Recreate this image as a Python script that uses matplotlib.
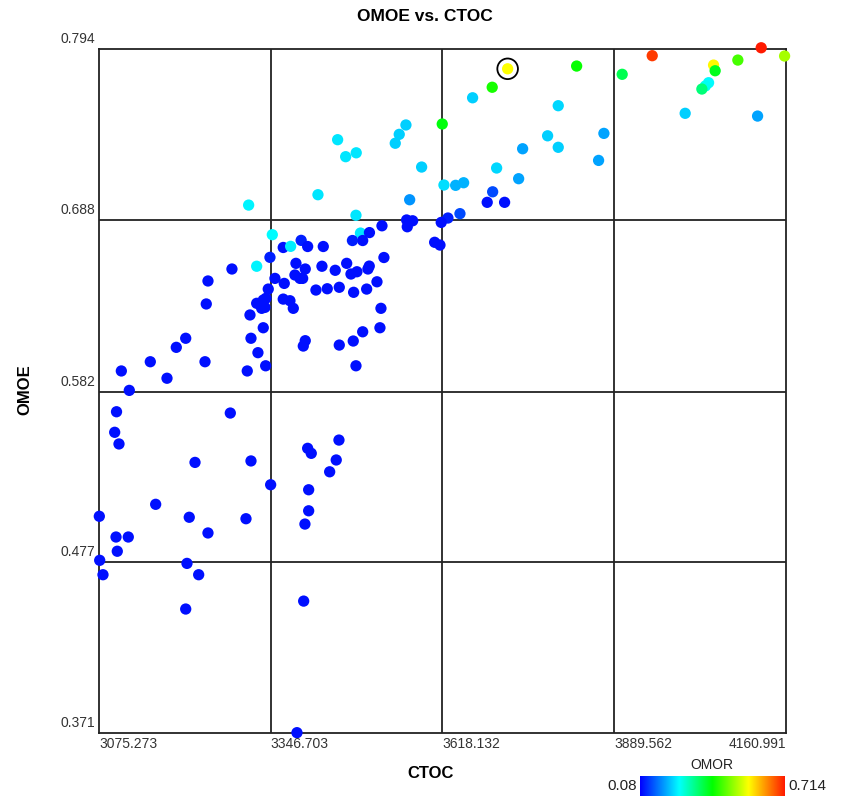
import numpy as np
import matplotlib
matplotlib.use("Agg")
import matplotlib.pyplot as plt
from matplotlib.colors import LinearSegmentedColormap, Normalize
from matplotlib.transforms import blended_transform_factory

plt.rcParams['font.family'] = ['Liberation Sans', 'DejaVu Sans']

# well data: CTOC (x), OMOE (y), OMOR (colour)
ctoc = [3721.4, 3830.5, 3902.5, 3950.0, 4047.0, 4049.5, 4039.1, 4034.1, 4028.5, 4085.4,
        4122.3, 4159.3, 4002.1, 4116.6, 3873.6, 3865.2, 3801.4, 3801.4, 3697.0, 3666.0,
        3618.0, 3784.6, 3745.1, 3704.0, 3738.8, 3620.7, 3639.2, 3651.8, 3697.7, 3689.1,
        3716.6, 3646.0, 3627.0, 3616.4, 3606.0, 3614.4, 3560.6, 3550.0, 3543.7, 3585.4,
        3566.5, 3561.7, 3571.2, 3562.7, 3522.7, 3525.8, 3452.6, 3465.3, 3482.0, 3421.5,
        3311.9, 3481.6, 3349.3, 3488.7, 3502.9, 3492.2, 3476.0, 3394.9, 3405.2, 3429.9,
        3366.6, 3378.3, 3345.6, 3324.6, 3285.5, 3386.7, 3401.4, 3427.8, 3448.8, 3466.9,
        3473.7, 3483.1, 3500.5, 3502.6, 3353.5, 3368.2, 3385.1, 3393.0, 3397.3, 3342.9,
        3418.3, 3436.2, 3455.2, 3477.9, 3498.5, 3514.8, 3366.6, 3377.2, 3382.5, 3324.6,
        3335.0, 3339.3, 3332.5, 3337.7, 3314.0, 3335.0, 3315.6, 3326.6, 3338.8, 3309.7,
        3521.1, 3519.5, 3492.2, 3477.3, 3455.2, 3401.4, 3398.3, 3481.6, 3247.6, 3244.9,
        3212.4, 3197.5, 3156.4, 3110.6, 3182.8, 3242.9, 3123.2, 3103.0, 3282.9, 3100.1,
        3106.9, 3227.1, 3315.6, 3346.7, 3405.2, 3410.9, 3454.7, 3450.4, 3440.0, 3406.8,
        3406.8, 3400.9, 3164.9, 3075.8, 3218.0, 3307.7, 3247.6, 3102.2, 3121.6, 3104.2,
        3076.4, 3081.6, 3214.4, 3232.9, 3212.4, 3398.9, 3388.3]

omoe = [0.7816, 0.7833, 0.7782, 0.7897, 0.7839, 0.7804, 0.7730, 0.7710, 0.7691, 0.7870,
        0.7946, 0.7895, 0.7541, 0.7524, 0.7417, 0.7250, 0.7588, 0.7331, 0.7702, 0.7637,
        0.7475, 0.7402, 0.7322, 0.7203, 0.7137, 0.7098, 0.7096, 0.7112, 0.7056, 0.6991,
        0.6991, 0.6921, 0.6894, 0.6867, 0.6744, 0.6727, 0.7469, 0.7411, 0.7356, 0.7209,
        0.7007, 0.6882, 0.6877, 0.6840, 0.6846, 0.6650, 0.7378, 0.7273, 0.7297, 0.7038,
        0.6974, 0.6911, 0.6791, 0.6801, 0.6804, 0.6755, 0.6755, 0.6756, 0.6718, 0.6718,
        0.6712, 0.6719, 0.6651, 0.6596, 0.6579, 0.6614, 0.6579, 0.6596, 0.6571, 0.6614,
        0.6548, 0.6562, 0.6579, 0.6597, 0.6521, 0.6490, 0.6542, 0.6521, 0.6521, 0.6455,
        0.6449, 0.6457, 0.6466, 0.6435, 0.6455, 0.6500, 0.6393, 0.6383, 0.6336, 0.6367,
        0.6387, 0.6398, 0.6336, 0.6342, 0.6295, 0.6216, 0.6151, 0.6062, 0.5981, 0.5949,
        0.6336, 0.6216, 0.6191, 0.6134, 0.6109, 0.6136, 0.6103, 0.5981, 0.6505, 0.6363,
        0.6151, 0.6095, 0.6006, 0.5949, 0.5904, 0.6006, 0.5829, 0.5697, 0.5689, 0.5570,
        0.5498, 0.5384, 0.5393, 0.5246, 0.5471, 0.5440, 0.5522, 0.5399, 0.5326, 0.5215,
        0.5085, 0.5003, 0.5125, 0.5051, 0.5045, 0.5036, 0.4948, 0.4923, 0.4923, 0.4835,
        0.4779, 0.4690, 0.4760, 0.4690, 0.4478, 0.4527, 0.3714]

omor = [0.555, 0.40, 0.35, 0.69, 0.56, 0.38, 0.25, 0.26, 0.33, 0.44,
        0.714, 0.50, 0.22, 0.19, 0.19, 0.19, 0.225, 0.22, 0.41, 0.22,
        0.39, 0.22, 0.19, 0.225, 0.19, 0.23, 0.20, 0.20, 0.13, 0.09,
        0.09, 0.13, 0.10, 0.09, 0.09, 0.09, 0.22, 0.22, 0.22, 0.22,
        0.18, 0.09, 0.09, 0.09, 0.09, 0.09, 0.235, 0.235, 0.235, 0.235,
        0.245, 0.235, 0.25, 0.235, 0.09, 0.09, 0.10, 0.10, 0.09, 0.09,
        0.09, 0.24, 0.10, 0.245] + [0.09] * 83

highlight = 0  # selected sample, ringed

xticks = [3075.273, 3346.703, 3618.132, 3889.562, 4160.991]
yticks = [0.371, 0.477, 0.582, 0.688, 0.794]
omor_min, omor_max = 0.08, 0.714

cmap = LinearSegmentedColormap.from_list(
    "omor", [(0.0, "#0000ff"), (0.27, "#00ffff"), (0.5, "#00ff00"),
             (0.75, "#ffff00"), (1.0, "#ff1a00")])
norm = Normalize(omor_min, omor_max)

fig = plt.figure(figsize=(8.41, 7.99), dpi=100)
ax = fig.add_axes([0.1177, 0.0822, 0.8165, 0.8568])
ax.set_xlim(xticks[0], xticks[-1])
ax.set_ylim(yticks[0], yticks[-1])

for v in xticks[1:-1]:
    ax.axvline(v, color="#222222", lw=1.3, zorder=1)
for v in yticks[1:-1]:
    ax.axhline(v, color="#222222", lw=1.3, zorder=1)
for s in ax.spines.values():
    s.set_color("#222222")
    s.set_linewidth(1.3)

ax.scatter(ctoc, omoe, c=omor, cmap=cmap, norm=norm, s=66, edgecolors="none",
           zorder=3, clip_on=False)
ax.scatter([ctoc[highlight]], [omoe[highlight]], s=220, facecolors="none",
           edgecolors="black", linewidths=1.3, zorder=4, clip_on=False)

ax.set_xticks([])
ax.set_yticks([])
tx = blended_transform_factory(ax.transData, ax.transAxes)
ty = blended_transform_factory(ax.transAxes, ax.transData)
for i, v in enumerate(xticks):
    ha = "right" if i == len(xticks) - 1 else "left"
    ax.text(v, -0.006, f"{v:.3f}", transform=tx, ha=ha, va="top",
            fontsize=10, color="#333333")
for v in yticks:
    ax.text(-0.005, v + 0.002, f"{v:.3f}", transform=ty, ha="right", va="bottom",
            fontsize=10, color="#333333")

fig.text(0.505, 0.979, "OMOE vs. CTOC", ha="center", va="center",
         fontsize=12.5, fontweight="bold")
fig.text(0.512, 0.032, "CTOC", ha="center", va="center",
         fontsize=12, fontweight="bold")
fig.text(0.030, 0.512, "OMOE", ha="center", va="center", rotation=90,
         fontsize=12, fontweight="bold")

# colour key
cax = fig.add_axes([0.761, 0.004, 0.1724, 0.025])
cax.imshow(np.linspace(0, 1, 256)[None, :], cmap=cmap, aspect="auto")
cax.set_axis_off()
fig.text(0.847, 0.043, "OMOR", ha="center", va="center", fontsize=10, color="#222222")
fig.text(0.757, 0.016, f"{omor_min:g}", ha="right", va="center", fontsize=11, color="#222222")
fig.text(0.937, 0.016, f"{omor_max:g}", ha="left", va="center", fontsize=11, color="#222222")

fig.savefig("out.png", dpi=100)
